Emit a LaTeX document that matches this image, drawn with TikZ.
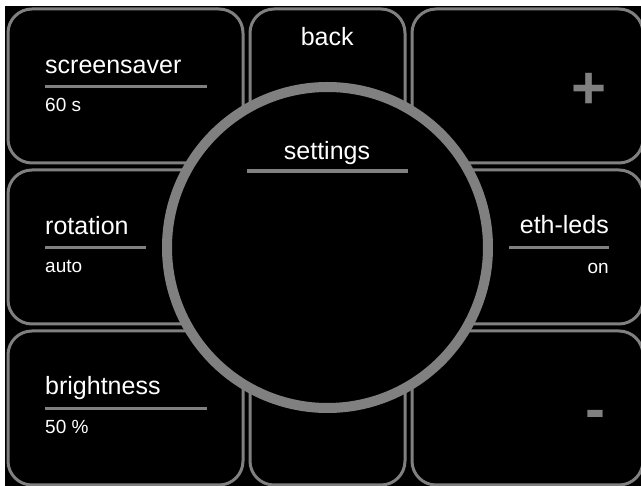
\documentclass[tikz,border=0pt]{standalone}
\usepackage{fontspec}
\setmainfont{Liberation Sans}
\usetikzlibrary{positioning}

\begin{document}
\begin{tikzpicture}[x=1pt,y=-1pt,node distance=7pt,
    tile/.style={draw=gray,line width=3pt,fill=black,rounded corners=24pt,outer sep=0pt,inner sep=0pt,minimum height=154pt},
    title text/.style={text=white,inner sep=0pt,font=\fontsize{25}{30}\selectfont},
    value text/.style={text=white,inner sep=0pt,font=\fontsize{19}{23}\selectfont},
    sign text/.style={text=gray,inner sep=0pt,font=\fontsize{60}{72}\selectfont\bfseries},
    bar/.style={draw=gray,line width=3.5pt}]

  \fill[white] (0,0) rectangle (641,486);
  \fill[black] (5,6) rectangle (641,486);
  \useasboundingbox (0,0) rectangle (641,486);

  \node[tile,minimum width=235pt] (screensaver tile) at (125.5,86) {};
  \node[tile,minimum width=155pt] (back tile) [right=of screensaver tile] {};
  \node[tile,minimum width=231pt] (plus tile) [right=of back tile] {};
  \node[tile,minimum width=235pt] (rotation tile) [below=of screensaver tile] {};
  \node[tile,minimum width=155pt] (middle tile) [right=of rotation tile] {};
  \node[tile,minimum width=231pt] (eth leds tile) [right=of middle tile] {};
  \node[tile,minimum width=235pt] (brightness tile) [below=of rotation tile] {};
  \node[tile,minimum width=155pt] (bottom tile) [right=of brightness tile] {};
  \node[tile,minimum width=231pt] (minus tile) [right=of bottom tile] {};

  \node[title text,anchor=base west] (screensaver) at (45,73.5) {screensaver};
  \draw[bar] (45,86.7) -- (207,86.7);
  \node[value text,anchor=base west] (screensaver value) at (45,111.7) {60 s};

  \node[title text,anchor=base west] (rotation) at (45,234.3) {rotation};
  \draw[bar] (45,247.7) -- (146,247.7);
  \node[value text,anchor=base west] (rotation value) at (45,272.7) {auto};

  \node[title text,anchor=base west] (brightness) at (45,395) {brightness};
  \draw[bar] (45,408.7) -- (207,408.7);
  \node[value text,anchor=base west] (brightness value) at (45,434) {50 \%};

  \node[title text,anchor=base] (back) at (327.2,45.7) {back};

  \node[title text,anchor=base east] (eth leds) at (609,233.3) {eth-leds};
  \draw[bar] (509,247.7) -- (609,247.7);
  \node[value text,anchor=base east] (eth leds value) at (609,273.3) {on};

  \node[sign text,anchor=base east] (plus) at (606.5,108.3) {+};
  \node[sign text,anchor=base east] (minus) at (606,429.4) {-};

  \node[circle,draw=gray,line width=10pt,fill=black,minimum size=321pt,inner sep=0pt] (dial) at (327.5,247.5) {};
  \node[title text,anchor=base] (settings) at (327,159.5) {settings};
  \draw[bar] (247,171) -- (408,171);
\end{tikzpicture}
\end{document}
